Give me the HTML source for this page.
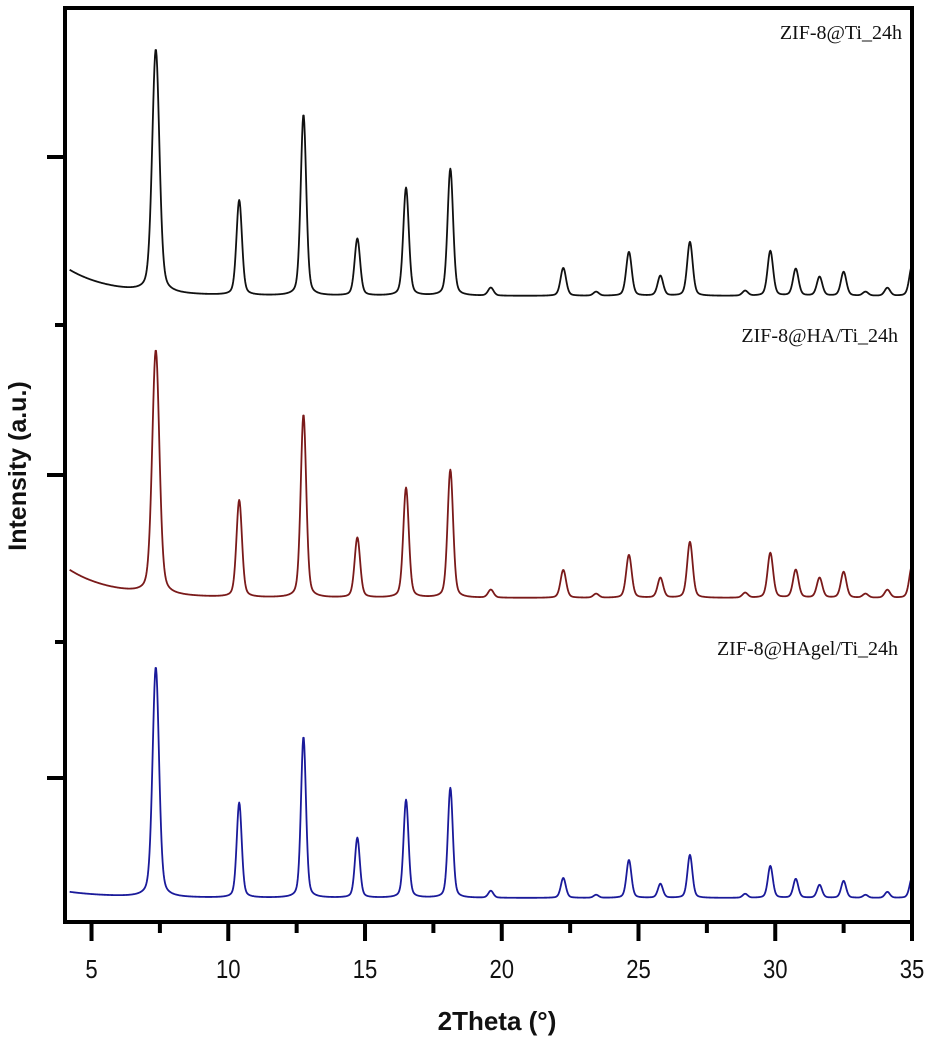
<!DOCTYPE html>
<html><head><meta charset="utf-8"><style>
html,body{margin:0;padding:0;background:#fff;}
svg{display:block;}
</style></head><body>
<svg id="chart" width="931" height="1042" viewBox="0 0 931 1042" xmlns="http://www.w3.org/2000/svg">
<rect x="0" y="0" width="931" height="1042" fill="#fff"/>
<g id="series"></g>
<g id="axes"></g>
<text x="902" y="39" text-anchor="end" font-family="Liberation Serif, serif" font-size="20" fill="#111">ZIF-8@Ti_24h</text>
<text x="898" y="342" text-anchor="end" font-family="Liberation Serif, serif" font-size="20" fill="#111">ZIF-8@HA/Ti_24h</text>
<text x="898" y="655" text-anchor="end" font-family="Liberation Serif, serif" font-size="20" fill="#111">ZIF-8@HAgel/Ti_24h</text>
<text transform="translate(26,466) rotate(-90)" text-anchor="middle" font-family="Liberation Sans, sans-serif" font-weight="bold" font-size="25" fill="#111">Intensity (a.u.)</text>
<text x="497" y="1030" text-anchor="middle" font-family="Liberation Sans, sans-serif" font-weight="bold" font-size="26" fill="#111">2Theta (°)</text>
</svg>
<script>
const xTicks = [5, 10, 15, 20, 25, 30, 35];
const xMinorTicks = [7.5, 12.5, 17.5, 22.5, 27.5, 32.5];
const peakPositions = [7.35, 10.4, 12.75, 14.72, 16.5, 18.12, 19.6, 22.25, 23.45, 24.65, 25.8, 26.88, 28.9, 29.82, 30.75, 31.62, 32.5, 33.3, 34.1, 35.0];
const seriesNames = ["ZIF-8@Ti_24h", "ZIF-8@HA/Ti_24h", "ZIF-8@HAgel/Ti_24h"];
const heightsTi = [243, 95, 181, 57, 108, 127, 8, 28, 4, 44, 20, 54, 5, 45, 27, 19, 24, 4, 8, 30];
const heightsHATi = [244, 97, 183, 60, 110, 128, 8, 28, 4, 43, 20, 56, 5, 45, 28, 20, 26, 4, 8, 32];
const heightsHAgelTi = [230, 95, 161, 60, 98, 110, 7, 20, 3, 38, 14, 43, 4, 32, 19, 13, 17, 3, 6, 20];
const offsets = [626, 324, 24];
const bgStart = [26, 28, 6];
const colors = ["#111111", "#7a1a1a", "#1a1a9a"];

const X0 = 4.03, X1 = 35, PX0 = 65, PX1 = 912;
const PY0 = 8, PY1 = 922;
function xs(v){ return PX0 + (v - X0) / (X1 - X0) * (PX1 - PX0); }
function ys(v){ return PY1 - v; }

const NS = "http://www.w3.org/2000/svg";
const sg = document.getElementById("series");
const allHeights = [heightsTi, heightsHATi, heightsHAgelTi];
const seriesKeys = ["series-zif8-ti", "series-zif8-ha-ti", "series-zif8-hagel-ti"];
function profile(x, c, w){
  const d = x - c;
  const g = Math.exp(-d*d/(2*w*w));
  const l = 1/(1 + (d/(w*1.3))*(d/(w*1.3)));
  return 0.7*g + 0.3*l;
}
for (let s = 0; s < 3; s++){
  const h = allHeights[s];
  const width = s === 2 ? 0.09 : 0.1;
  let d = "";
  for (let x = 4.2; x <= 35.0001; x += 0.02){
    let v = offsets[s] + bgStart[s] * Math.exp(-(x - 4.2) / 1.6);
    for (let i = 0; i < peakPositions.length; i++){
      const w = width * (peakPositions[i] < 8 ? 1.3 : 1);
      v += h[i] * profile(x, peakPositions[i], w);
    }
    d += (d ? "L" : "M") + xs(x).toFixed(2) + "," + ys(v).toFixed(2);
  }
  const p = document.createElementNS(NS, "path");
  p.setAttribute("d", d);
  p.setAttribute("fill", "none");
  p.setAttribute("stroke", colors[s]);
  p.setAttribute("stroke-width", "1.8");
  p.setAttribute("stroke-linejoin", "round");
  
  
  sg.appendChild(p);
}

const ag = document.getElementById("axes");
const frame = document.createElementNS(NS, "rect");
frame.setAttribute("x", PX0); frame.setAttribute("y", PY0);
frame.setAttribute("width", PX1 - PX0); frame.setAttribute("height", PY1 - PY0);
frame.setAttribute("fill", "none"); frame.setAttribute("stroke", "#000"); frame.setAttribute("stroke-width", "4");


ag.appendChild(frame);

function line(x1,y1,x2,y2,w,name){
  const l = document.createElementNS(NS, "line");
  l.setAttribute("x1", x1); l.setAttribute("y1", y1); l.setAttribute("x2", x2); l.setAttribute("y2", y2);
  l.setAttribute("stroke", "#000"); l.setAttribute("stroke-width", w);
  
  
  ag.appendChild(l);
}
xTicks.forEach(t => {
  line(xs(t), PY1, xs(t), PY1 + 19, 4, "x-tick-major");
  const tx = document.createElementNS(NS, "text");
  tx.setAttribute("transform", "translate(" + xs(t) + ",978) scale(0.85,1)");
  tx.setAttribute("text-anchor", "middle");
  tx.setAttribute("font-family", "Liberation Sans, sans-serif");
  tx.setAttribute("font-size", "26");
  tx.setAttribute("fill", "#111");
  tx.textContent = t;
  
  
  ag.appendChild(tx);
});
xMinorTicks.forEach(t => line(xs(t), PY1, xs(t), PY1 + 11, 4, "x-tick-minor"));
[157, 475, 778].forEach(y => line(PX0 - 18, y, PX0, y, 4, "y-tick-major"));
[325, 642].forEach(y => line(PX0 - 10, y, PX0, y, 4, "y-tick-minor"));
</script>
</body></html>
